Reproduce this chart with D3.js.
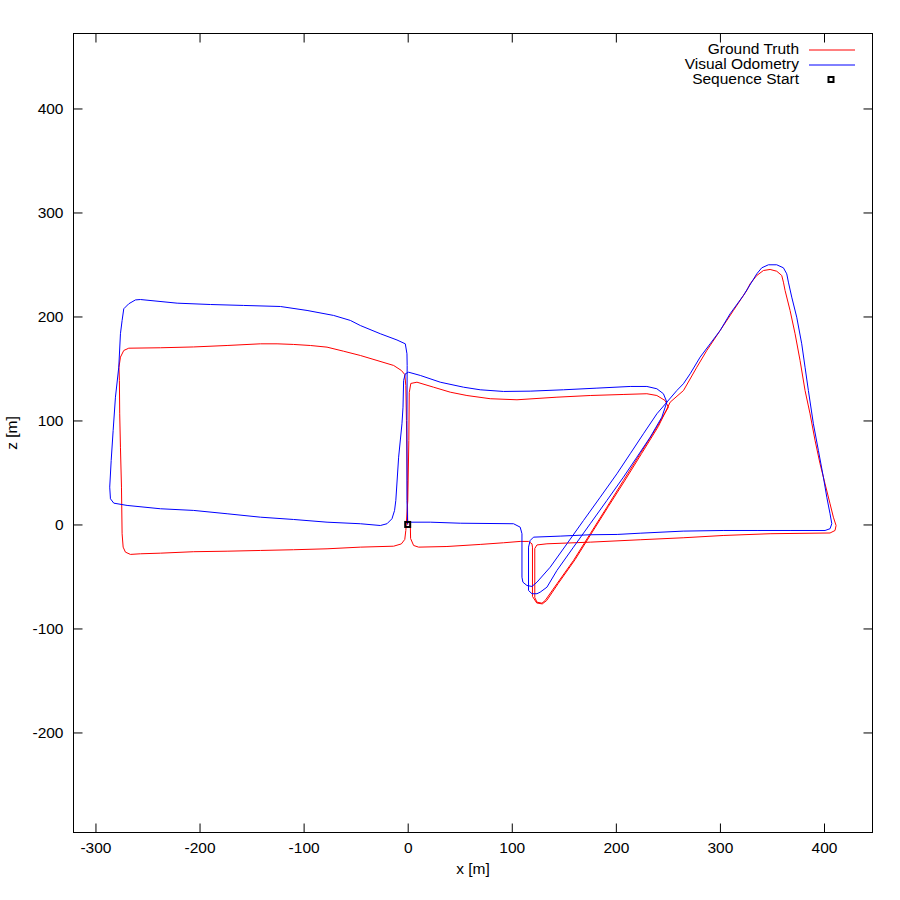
<!DOCTYPE html>
<html>
<head>
  <meta charset="utf-8">
  <title>Trajectory</title>
  <script src="https://d3js.org/d3.v7.min.js"></script>
  <style>
    body { margin: 0; background: #fff; }
    text { font-family: "Liberation Sans", Arial, sans-serif; }
  </style>
</head>
<body>

  <svg width="900" height="900"></svg>

  <script>

    // Ground truth path, [x, z] in metres
    const groundTruth = [
      [0, 0], [-0.4, 42.3], [-1.2, 100.0], [-1.8, 133.6], [-2.8, 144.2], [-6.1, 148.1],
      [-13.5, 152.9], [-29.5, 157.7], [-45.5, 162.5], [-61.6, 166.6], [-77.5, 170.5],
      [-93.5, 172.1], [-109.6, 173.1], [-125.5, 173.7], [-141.5, 173.7], [-173.5, 172.1],
      [-205.6, 170.7], [-237.6, 169.9], [-268.0, 169.5], [-272.8, 167.3], [-276.0, 160.9],
      [-277.4, 151.2], [-277.0, 138.5], [-276.7, 106.4], [-276.0, 74.3], [-275.0, 35.9],
      [-274.4, -8.9], [-273.4, -21.8], [-271.2, -26.6], [-266.4, -28.8], [-256.8, -28.2],
      [-237.6, -27.6], [-205.6, -26.2], [-173.5, -25.7], [-141.5, -25.0], [-109.6, -24.3],
      [-77.5, -23.4], [-45.5, -21.8], [-13.5, -20.9], [-6.1, -18.7], [-2.8, -14.4],
      [-1.8, -5.8], [0.1, 23.1], [1.1, 80.8], [1.5, 126.9], [3.0, 135.6], [8.9, 136.8],
      [24.9, 132.0], [40.9, 127.2], [56.9, 124.0], [79.3, 120.9], [105.0, 119.9],
      [143.4, 122.4], [175.4, 124.0], [207.0, 125.0], [229.8, 125.7], [239.4, 124.0],
      [247.3, 119.2], [250.5, 112.8],
      [239.4, 93.6], [223.4, 68.0], [207.3, 42.3], [191.4, 16.6], [175.4, -8.9],
      [159.3, -34.6], [143.4, -57.0], [132.1, -73.1], [129.0, -75.7], [124.2, -74.7],
      [122.1, -70.2], [122.1, -23.1], [124.2, -19.7], [133.8, -18.6], [175.4, -17.0],
      [223.4, -14.7], [264.7, -12.8], [303.1, -10.6], [348.2, -8.9], [405.8, -8.2],
      [410.6, -5.8], [411.6, -1.0], [409.0, 7.0], [405.8, 19.9], [401.0, 39.1],
      [396.2, 58.4], [391.4, 80.8], [386.6, 106.4], [381.8, 128.8], [377.0, 157.7],
      [372.2, 183.4], [367.4, 205.8], [362.6, 225.0], [361.0, 233.0], [359.4, 239.4],
      [354.6, 243.5], [348.2, 245.2], [341.8, 244.2], [335.4, 239.4], [329.0, 231.4],
      [325.8, 225.0], [313.0, 205.8], [300.2, 186.5], [287.4, 167.3], [277.8, 151.2],
      [265.0, 128.8], [252.2, 117.6],
      [240.8, 94.2], [224.8, 68.3], [209.0, 42.8], [192.8, 17.3], [176.8, -8.2],
      [160.9, -33.7], [144.8, -56.5], [133.6, -73.1], [129.3, -76.4], [124.0, -75.5],
      [119.9, -69.2], [119.9, -21.8], [119.4, -18.6], [116.1, -16.3], [108.1, -16.3],
      [92.1, -17.6], [69.7, -19.2], [37.7, -21.2], [10.5, -21.8], [5.7, -20.2],
      [2.8, -13.5], [2.5, 0]
    ];

    // Visual odometry path, [x, z] in metres
    const visualOdometry = [
      [0, 0], [-0.7, 23.1], [-0.7, 100.0], [-0.5, 152.9], [-0.7, 164.1], [-2.3, 173.7],
      [-10.3, 177.4], [-26.3, 183.4], [-45.5, 191.3], [-55.1, 196.2], [-71.2, 201.0],
      [-96.7, 205.8], [-122.3, 209.6], [-157.6, 210.6], [-189.6, 211.5], [-221.5, 212.8],
      [-256.8, 216.3], [-261.6, 215.9], [-268.0, 212.2], [-272.8, 207.4], [-274.4, 196.1],
      [-276.0, 183.4], [-277.6, 151.2], [-280.8, 122.4], [-283.0, 90.4], [-284.9, 61.5],
      [-286.3, 35.9], [-285.6, 24.7], [-282.4, 20.5], [-269.6, 18.3], [-237.6, 15.1],
      [-205.6, 13.5], [-173.5, 10.3], [-141.5, 7.0], [-109.6, 4.8], [-77.5, 2.2],
      [-45.5, 0.7], [-26.3, -1.0], [-19.9, 0.7], [-15.1, 5.5], [-12.6, 13.5],
      [-11.4, 23.1], [-8.7, 64.7], [-5.5, 96.8], [-4.5, 112.8], [-3.9, 138.5],
      [-2.3, 144.9], [0.9, 146.4], [12.1, 143.3], [31.3, 136.8], [53.7, 132.0],
      [69.7, 129.5], [92.1, 127.9], [117.7, 128.2], [149.7, 129.5], [181.8, 131.1],
      [213.8, 132.7], [229.8, 132.7], [239.4, 130.5], [245.7, 125.7], [249.0, 117.6],
      [244.2, 103.2], [233.0, 83.9], [220.2, 64.7], [207.3, 45.5], [191.4, 23.1],
      [175.4, 0.7], [159.3, -21.8], [143.4, -44.2], [133.8, -60.3], [127.3, -65.1],
      [124.2, -66.6], [119.4, -66.6], [116.1, -63.5], [116.1, -21.8], [117.7, -15.4],
      [120.9, -12.2], [146.5, -11.2], [175.4, -9.9], [201.3, -9.6], [223.4, -8.4],
      [264.7, -6.4], [303.1, -5.8], [335.7, -5.8], [367.4, -5.8], [401.0, -5.8],
      [405.8, -4.1], [407.5, 0.7], [405.8, 10.3], [402.7, 26.2], [399.4, 45.5],
      [394.6, 71.2], [389.8, 96.8], [385.0, 128.8], [381.8, 151.2], [378.6, 173.7],
      [373.8, 199.3], [369.0, 218.6], [365.8, 233.0], [364.2, 241.0], [361.0, 246.8],
      [354.6, 249.7], [346.6, 249.7], [340.2, 246.8], [335.4, 241.0], [322.6, 220.2],
      [309.8, 202.6], [300.2, 186.5], [290.6, 173.7], [281.0, 160.9], [271.4, 144.9],
      [264.9, 135.3], [258.6, 128.8], [249.0, 117.6],
      [239.4, 106.4], [226.5, 87.2], [213.8, 68.0], [201.0, 48.7], [185.0, 26.2],
      [168.9, 3.8], [153.0, -18.6], [136.9, -41.1], [124.2, -55.5], [119.4, -59.6],
      [114.6, -58.7], [110.7, -55.5], [109.8, -50.7], [109.8, -8.9], [108.1, -2.6],
      [101.7, 0.7], [50.5, 1.2], [21.7, 2.2], [2.5, 2.2]
    ];

    const sequenceStart = [[0, 0]];

    const xTicks = [-300, -200, -100, 0, 100, 200, 300, 400];
    const zTicks = [-200, -100, 0, 100, 200, 300, 400];

    const seriesNames = ["Ground Truth", "Visual Odometry", "Sequence Start"];
    const seriesColors = ["#ff0000", "#0000ff", "#000000"];

    const fontSize = "15.5px";

    // Plot frame
    const frameLeft = 73.5, frameRight = 872.5, frameTop = 33.5, frameBottom = 832.5;

    const svg = d3.select("svg");

    const xScale = d3.scaleLinear()
      .domain([-321.1, 446.6])
      .range([frameLeft, frameRight]);

    const zScale = d3.scaleLinear()
      .domain([-296.2, 472.1])
      .range([frameBottom, frameTop]);

    // plain hyphen for negatives, like gnuplot
    const tickText = d => String(d);

    // Axes with inward ticks (gnuplot style), mirrored on top and right
    const axisStyle = g => {
      g.select(".domain").remove();
      g.selectAll("line").attr("stroke", "#000");
      g.selectAll("text")
        .attr("fill", "#000")
        .style("font-size", fontSize)
        .style("font-family", "'Liberation Sans', Arial, sans-serif");
    };

    svg.append("g")
      .attr("transform", `translate(0,${frameBottom})`)
      .call(d3.axisBottom(xScale).tickValues(xTicks).tickFormat(tickText)
        .tickSizeInner(-9).tickSizeOuter(0).tickPadding(9))
      .call(axisStyle);

    svg.append("g")
      .attr("transform", `translate(0,${frameTop})`)
      .call(d3.axisTop(xScale).tickValues(xTicks).tickSizeInner(-9).tickSizeOuter(0).tickFormat(""))
      .call(axisStyle);

    svg.append("g")
      .attr("transform", `translate(${frameLeft},0)`)
      .call(d3.axisLeft(zScale).tickValues(zTicks).tickFormat(tickText)
        .tickSizeInner(-9).tickSizeOuter(0).tickPadding(10))
      .call(axisStyle);

    svg.append("g")
      .attr("transform", `translate(${frameRight},0)`)
      .call(d3.axisRight(zScale).tickValues(zTicks).tickSizeInner(-9).tickSizeOuter(0).tickFormat(""))
      .call(axisStyle);

    svg.append("rect")
      .attr("x", frameLeft).attr("y", frameTop)
      .attr("width", frameRight - frameLeft).attr("height", frameBottom - frameTop)
      .attr("fill", "none").attr("stroke", "#000");

    // Axis labels
    svg.append("text")
      .attr("x", (frameLeft + frameRight) / 2).attr("y", 874)
      .attr("text-anchor", "middle")
      .style("font-size", fontSize)
      .text("x [m]");

    svg.append("text")
      .attr("transform", `translate(17,${(frameTop + frameBottom) / 2}) rotate(-90)`)
      .attr("text-anchor", "middle")
      .style("font-size", fontSize)
      .text("z [m]");

    // Trajectories
    const line = d3.line()
      .x(d => xScale(d[0]))
      .y(d => zScale(d[1]));

    svg.append("path")
      .datum(groundTruth)
      .attr("d", line)
      .attr("fill", "none")
      .attr("stroke", seriesColors[0])
      .attr("stroke-width", 1);

    svg.append("path")
      .datum(visualOdometry)
      .attr("d", line)
      .attr("fill", "none")
      .attr("stroke", seriesColors[1])
      .attr("stroke-width", 1);

    svg.selectAll(".start")
      .data(sequenceStart)
      .enter().append("rect")
        .attr("class", "start")
        .attr("x", d => xScale(d[0]) - 2.5)
        .attr("y", d => zScale(d[1]) - 2.5)
        .attr("width", 5)
        .attr("height", 5)
        .attr("fill", "none")
        .attr("stroke", seriesColors[2])
        .attr("stroke-width", 2);

    // Legend
    const legend = svg.append("g");
    seriesNames.forEach((name, i) => {
      const y = 49 + i * 15;
      legend.append("text")
        .attr("x", 799).attr("y", y)
        .attr("dy", "0.35em")
        .attr("text-anchor", "end")
        .style("font-size", fontSize)
        .text(name);
      if (i < 2) {
        legend.append("line")
          .attr("x1", 809).attr("x2", 855)
          .attr("y1", y + 1).attr("y2", y + 1)
          .attr("stroke", seriesColors[i]);
      } else {
        legend.append("rect")
          .attr("x", 828.5).attr("y", y - 2)
          .attr("width", 5).attr("height", 5)
          .attr("fill", "none")
          .attr("stroke", seriesColors[i])
          .attr("stroke-width", 2);
      }
    });

  </script>

</body>
</html>
